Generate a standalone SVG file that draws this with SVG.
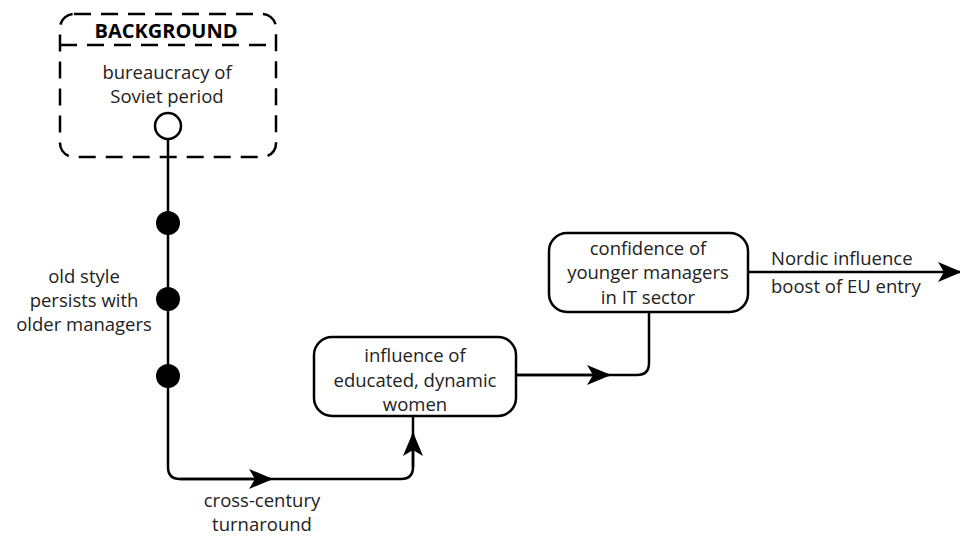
<svg xmlns="http://www.w3.org/2000/svg" width="960" height="536" viewBox="0 0 960 536">
<defs>
<marker id="ah" viewBox="0 0 24 20" refX="22" refY="10" markerWidth="24" markerHeight="20" markerUnits="userSpaceOnUse" orient="auto">
<path d="M0,0 L24,10 L0,20 L6,10 Z" fill="#000"/>
</marker>
<style>
text{font-family:"Open Sans","Liberation Sans",sans-serif;font-size:18.5px;fill:#222;text-anchor:middle}
.b{font-weight:bold;font-size:20px;fill:#000}
.box{fill:#fff;stroke:#000;stroke-width:2.5}
.dash{fill:none;stroke:#000;stroke-width:2.5;stroke-dasharray:17 10}
.ln{fill:none;stroke:#000;stroke-width:2.5}
.l{text-anchor:start}
</style>
</defs>
<rect width="960" height="536" fill="#fff"/>
<g id="background">
<rect class="dash" x="60" y="14" width="216" height="143" rx="14"/>
<line class="dash" x1="60" y1="45" x2="276" y2="45"/>
<text class="b" x="166" y="38">BACKGROUND</text>
<text x="167" y="79">bureaucracy of</text>
<text x="167" y="103">Soviet period</text>
</g>
<g id="connectors">
<path class="ln" d="M168,140 V467 Q168,479 180,479 H401 Q413,479 413,467 V416"/>
<path class="ln" d="M180,479 H271" marker-end="url(#ah)"/>
<path class="ln" d="M413,467 V434" marker-end="url(#ah)"/>
<path class="ln" d="M649,312 V363 Q649,375 637,375 H516"/>
<path class="ln" d="M516,375 H609" marker-end="url(#ah)"/>
<path class="ln" d="M748,272 H960" marker-end="url(#ah)"/>
</g>
<g id="start">
<circle cx="168" cy="126" r="13" fill="#fff" stroke="#000" stroke-width="2.5"/>
</g>
<g id="dots">
<circle cx="168" cy="223" r="12" fill="#000"/>
<circle cx="168" cy="299" r="12" fill="#000"/>
<circle cx="168" cy="376" r="12" fill="#000"/>
</g>
<g id="label-old">
<text x="84" y="283">old style</text>
<text x="84" y="307">persists with</text>
<text x="84" y="331">older managers</text>
</g>
<g id="label-cross">
<text x="262" y="507">cross-century</text>
<text x="262" y="531">turnaround</text>
</g>
<g id="women">
<rect class="box" x="314" y="337" width="202" height="79" rx="18"/>
<text x="415" y="362">influence of</text>
<text x="415" y="387">educated, dynamic</text>
<text x="415" y="411">women</text>
</g>
<g id="confidence">
<rect class="box" x="549" y="233" width="199" height="79" rx="18"/>
<text x="648" y="255">confidence of</text>
<text x="648" y="279">younger managers</text>
<text x="648" y="304">in IT sector</text>
</g>
<g id="label-nordic">
<text class="l" x="771" y="265">Nordic influence</text>
<text class="l" x="771" y="293">boost of EU entry</text>
</g>
</svg>
